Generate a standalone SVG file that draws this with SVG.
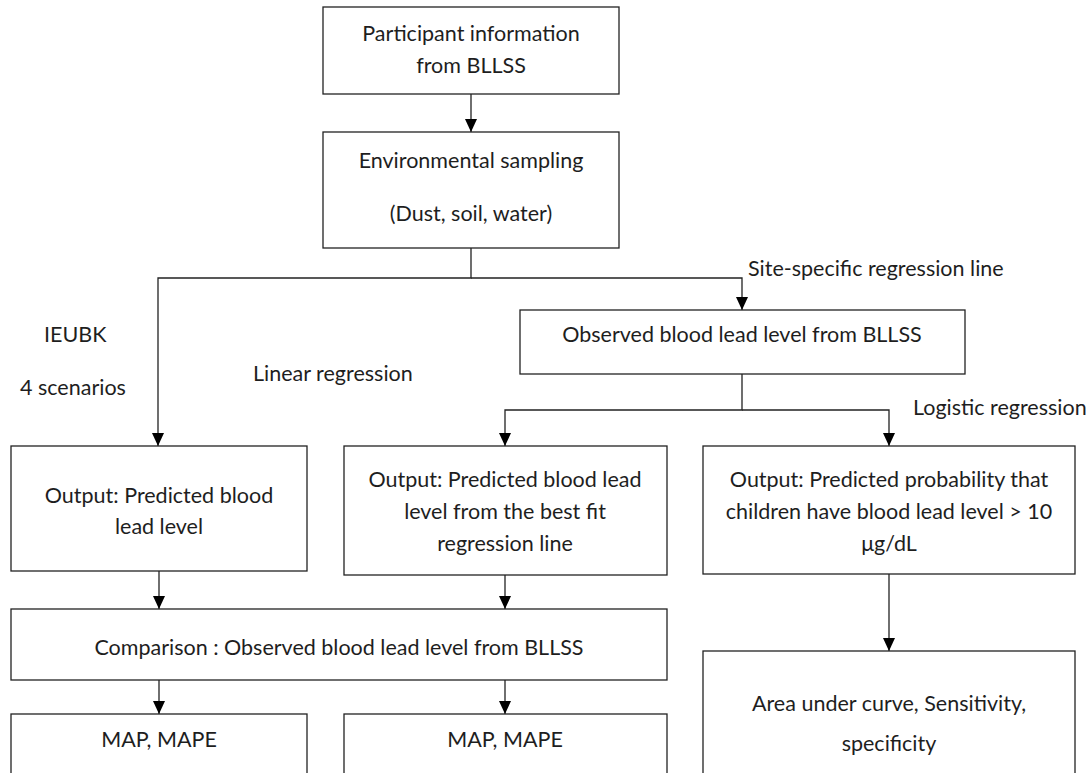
<svg xmlns="http://www.w3.org/2000/svg" width="1088" height="773" viewBox="0 0 1088 773">
<defs>
<style>
.box{fill:#fff;stroke:#222;stroke-width:1.3}
.t{font-family:Lato,"Liberation Sans",sans-serif;font-size:21.5px;fill:#1e1e1e;text-anchor:middle;dominant-baseline:central}
.l{font-family:Lato,"Liberation Sans",sans-serif;font-size:21.5px;fill:#1e1e1e;dominant-baseline:central}
.c{fill:none;stroke:#222;stroke-width:1.3}
</style>
<marker id="ah" markerUnits="userSpaceOnUse" markerWidth="13" markerHeight="12" refX="13" refY="6" orient="auto">
<path d="M0,0 L13,6 L0,12 z" fill="#000"/>
</marker>
</defs>
<rect width="1088" height="773" fill="#fff"/>
<g id="connectors">
<path class="c" d="M471,94 V132" marker-end="url(#ah)"/>
<path class="c" d="M471,248 V278 H158 V446" marker-end="url(#ah)"/>
<path class="c" d="M471,278 H742 V310" marker-end="url(#ah)"/>
<path class="c" d="M742,374 V410 H505 V446" marker-end="url(#ah)"/>
<path class="c" d="M742,410 H889 V446" marker-end="url(#ah)"/>
<path class="c" d="M159,571 V609" marker-end="url(#ah)"/>
<path class="c" d="M505,575 V609" marker-end="url(#ah)"/>
<path class="c" d="M159,680 V714" marker-end="url(#ah)"/>
<path class="c" d="M505,680 V714" marker-end="url(#ah)"/>
<path class="c" d="M889,574 V651" marker-end="url(#ah)"/>
</g>
<g id="labels">
<text class="l" x="748" y="268">Site-specific regression line</text>
<text class="l" x="44" y="334">IEUBK</text>
<text class="l" x="20" y="387">4 scenarios</text>
<text class="l" x="253" y="373">Linear regression</text>
<text class="l" x="913" y="407">Logistic regression</text>
</g>
<g id="n1"><rect class="box" x="323" y="7" width="296" height="87"/>
<text class="t" x="471" y="33">Participant information</text>
<text class="t" x="471" y="65">from BLLSS</text></g>
<g id="n2"><rect class="box" x="323" y="132" width="296" height="116"/>
<text class="t" x="471" y="160">Environmental sampling</text>
<text class="t" x="471" y="213">(Dust, soil, water)</text></g>
<g id="n3"><rect class="box" x="520" y="310" width="445" height="64"/>
<text class="t" x="742" y="334">Observed blood lead level from BLLSS</text></g>
<g id="n4"><rect class="box" x="11" y="446" width="296" height="125"/>
<text class="t" x="159" y="495">Output: Predicted blood</text>
<text class="t" x="159" y="526">lead level</text></g>
<g id="n5"><rect class="box" x="344" y="446" width="323" height="129"/>
<text class="t" x="505" y="479">Output: Predicted blood lead</text>
<text class="t" x="505" y="511">level from the best fit</text>
<text class="t" x="505" y="543">regression line</text></g>
<g id="n6"><rect class="box" x="703" y="446" width="372" height="128"/>
<text class="t" x="889" y="479">Output: Predicted probability that</text>
<text class="t" x="889" y="511">children have blood lead level &gt; 10</text>
<text class="t" x="889" y="543">μg/dL</text></g>
<g id="n7"><rect class="box" x="11" y="609" width="656" height="71"/>
<text class="t" x="339" y="647">Comparison : Observed blood lead level from BLLSS</text></g>
<g id="n8"><rect class="box" x="11" y="714" width="296" height="80"/>
<text class="t" x="159" y="739">MAP, MAPE</text></g>
<g id="n9"><rect class="box" x="344" y="714" width="323" height="80"/>
<text class="t" x="505" y="739">MAP, MAPE</text></g>
<g id="n10"><rect class="box" x="703" y="651" width="372" height="140"/>
<text class="t" x="889" y="703">Area under curve, Sensitivity,</text>
<text class="t" x="889" y="743">specificity</text></g>
</svg>
